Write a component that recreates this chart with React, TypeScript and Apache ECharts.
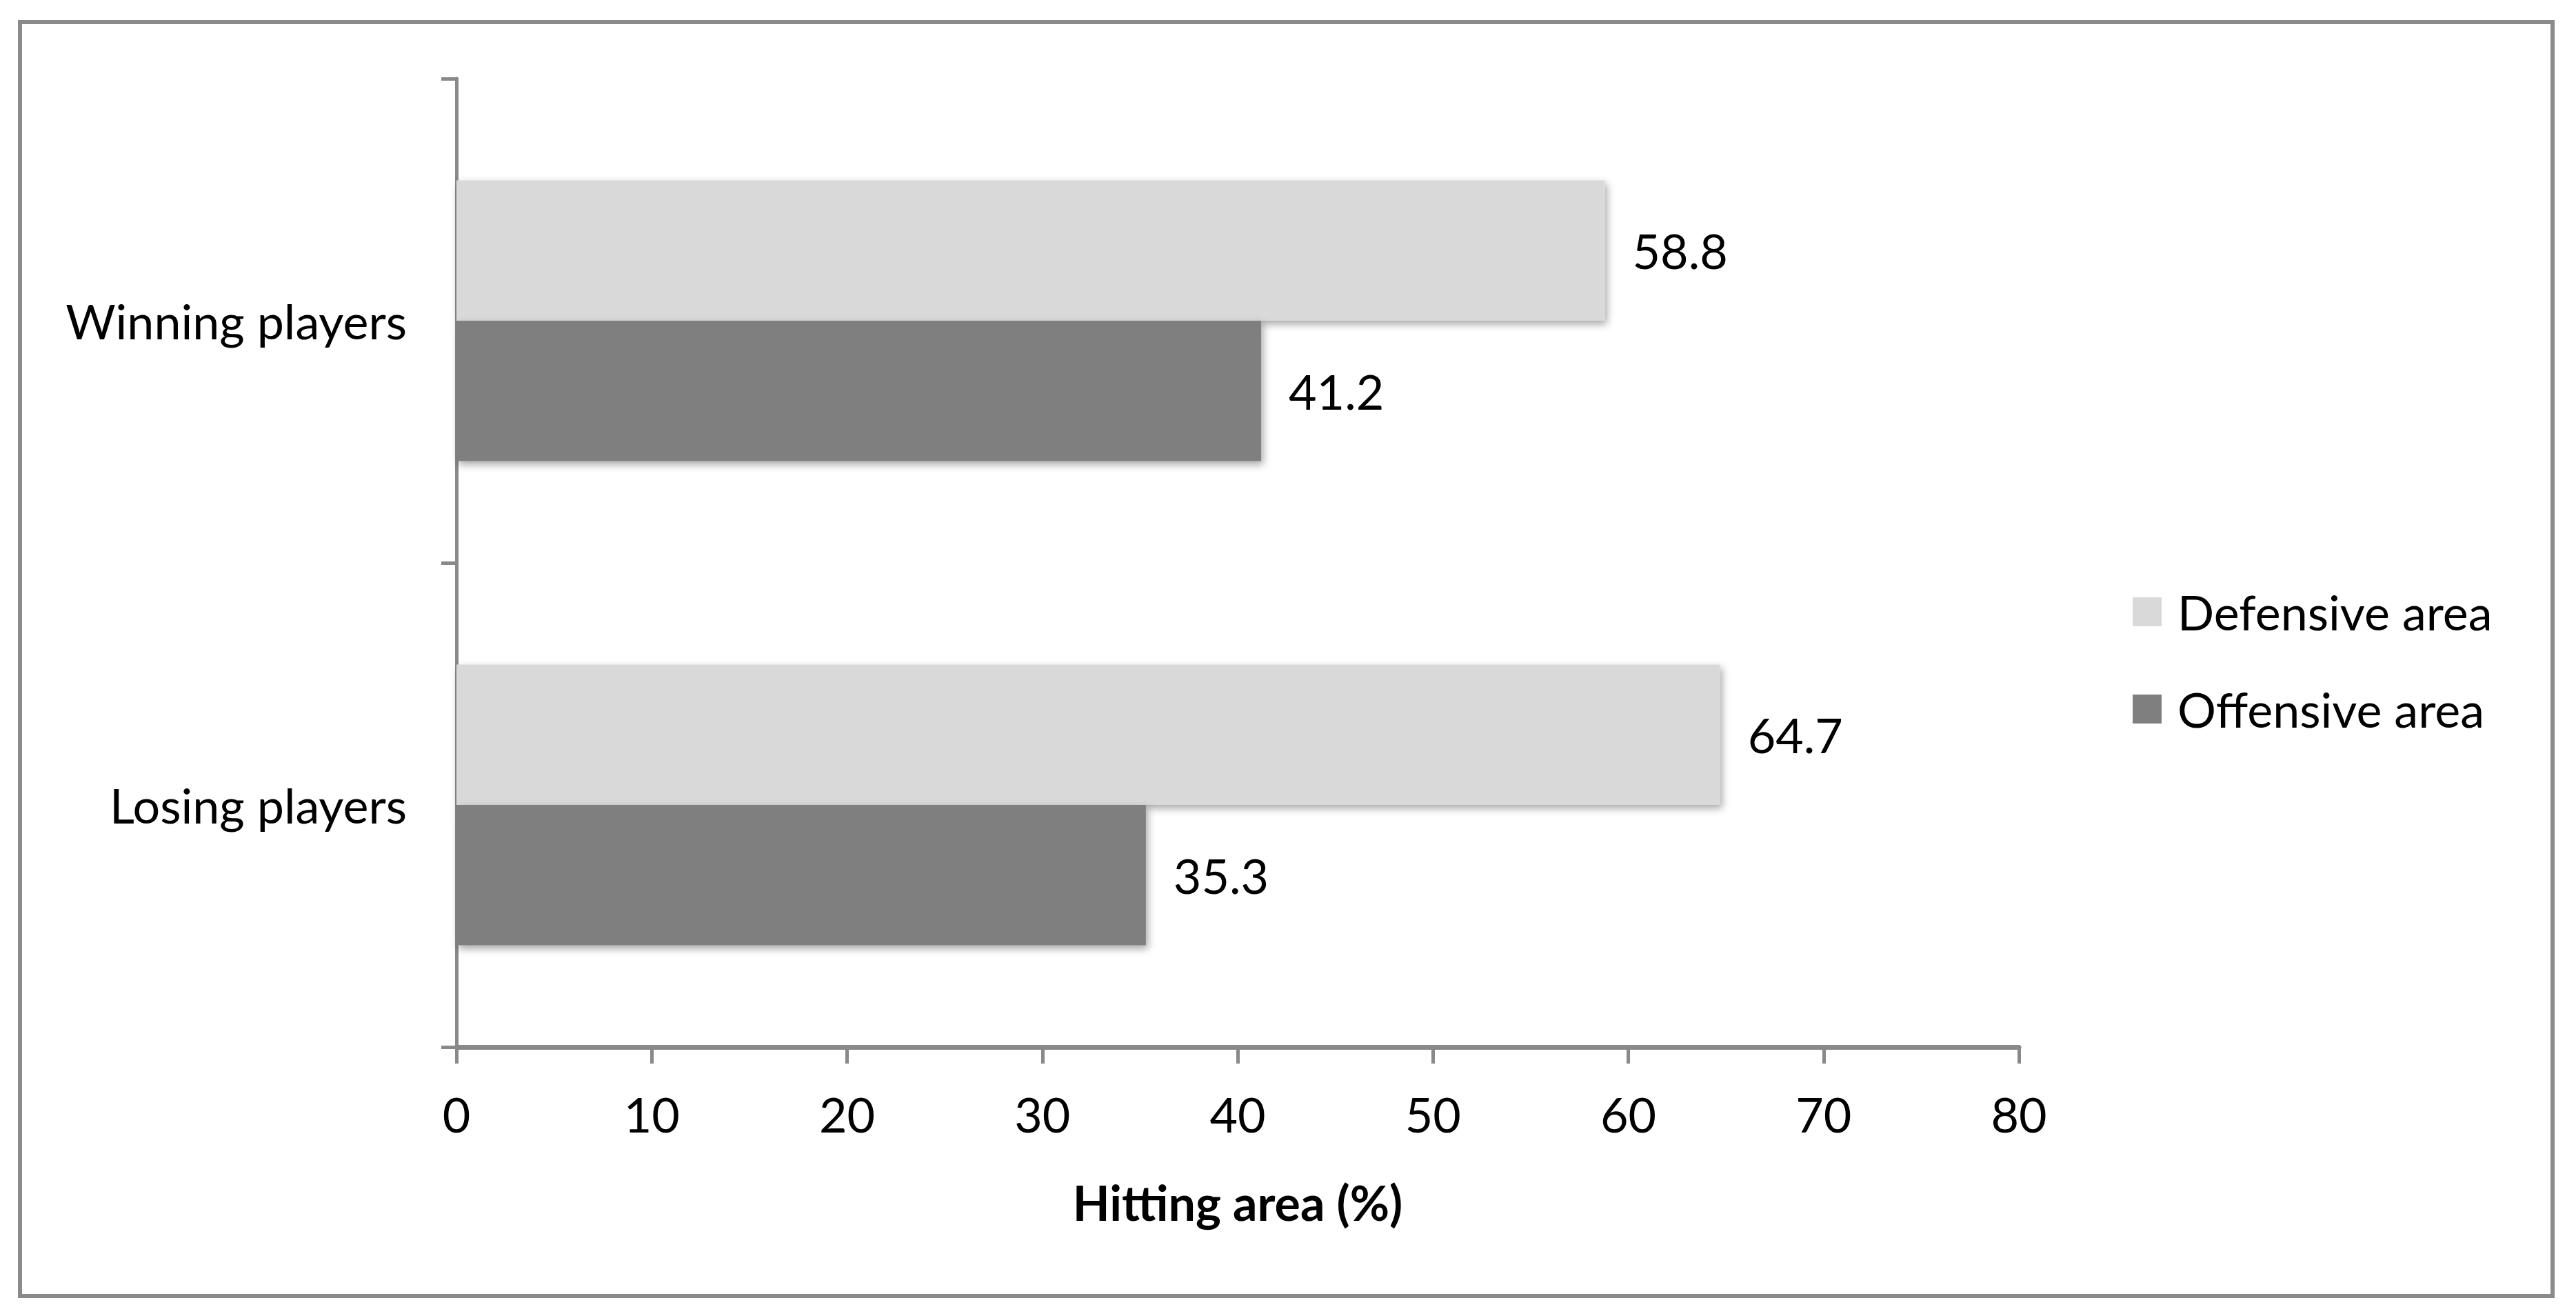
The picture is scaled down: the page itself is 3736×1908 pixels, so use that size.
import React, { useEffect, useRef } from "react";
import * as echarts from "echarts";

const categories = ["Winning players", "Losing players"];
const seriesNames = ["Defensive area", "Offensive area"];
const defensiveValues = [58.8, 64.7];
const offensiveValues = [41.2, 35.3];
const xTicks = { min: 0, max: 80, interval: 10 };
const xAxisTitle = "Hitting area (%)";

const FONT = "Lato";
const AXIS_COLOR = "#898989";

export default function App() {
  const ref = useRef<HTMLDivElement>(null);
  useEffect(() => {
    if (!ref.current) return;
    const chart = echarts.init(ref.current, null, { renderer: "svg" });
    const barShadow = {
      shadowBlur: 12,
      shadowColor: "rgba(0,0,0,0.35)",
      shadowOffsetX: 3,
      shadowOffsetY: 5,
    };
    const labelStyle = {
      show: true,
      position: "right",
      distance: 40,
      color: "#000",
      fontFamily: FONT,
      fontSize: 70,
      formatter: (p: any) => p.value.toFixed(1),
    };
    chart.setOption({
      animation: false,
      backgroundColor: "#fff",
      graphic: [
        {
          type: "rect",
          shape: { x: 29, y: 32, width: 3673, height: 1847 },
          style: { fill: "none", stroke: "#8a8a8a", lineWidth: 6 },
          silent: true,
        },
      ],
      grid: { left: 662, top: 114, width: 2266, height: 1404 },
      legend: {
        orient: "vertical",
        left: 3093,
        top: 852,
        padding: 0,
        itemWidth: 42,
        itemHeight: 42,
        itemGap: 71,
        icon: "rect",
        data: seriesNames,
        itemStyle: { shadowBlur: 0, shadowOffsetX: 0, shadowOffsetY: 0 },
        textStyle: {
          fontFamily: FONT,
          fontSize: 70,
          color: "#000",
          padding: [0, 0, 0, 18],
        },
      },
      xAxis: {
        type: "value",
        min: xTicks.min,
        max: xTicks.max,
        interval: xTicks.interval,
        name: xAxisTitle,
        nameLocation: "middle",
        nameGap: 190,
        nameTextStyle: {
          fontFamily: FONT,
          fontSize: 70,
          fontWeight: "bold",
          color: "#000",
        },
        axisLine: { show: true, lineStyle: { color: AXIS_COLOR, width: 7 } },
        axisTick: { show: true, length: 24, lineStyle: { color: AXIS_COLOR, width: 5 } },
        axisLabel: { fontFamily: FONT, fontSize: 70, color: "#000", margin: 62 },
        splitLine: { show: false },
      },
      yAxis: {
        type: "category",
        inverse: true,
        data: categories,
        axisLine: { show: true, lineStyle: { color: AXIS_COLOR, width: 5 } },
        axisTick: { show: true, length: 22, lineStyle: { color: AXIS_COLOR, width: 5 } },
        axisLabel: { fontFamily: FONT, fontSize: 70, color: "#000", margin: 72 },
        splitLine: { show: false },
      },
      series: [
        {
          name: seriesNames[0],
          type: "bar",
          data: defensiveValues,
          barGap: "0%",
          barCategoryGap: "42%",
          itemStyle: { color: "#d9d9d9", ...barShadow },
          label: labelStyle,
        },
        {
          name: seriesNames[1],
          type: "bar",
          data: offensiveValues,
          barGap: "0%",
          barCategoryGap: "42%",
          itemStyle: { color: "#7f7f7f", ...barShadow },
          label: labelStyle,
        },
      ],
    });
    return () => chart.dispose();
  }, []);
  return (
    <div
      ref={ref}
      style={{ position: "fixed", left: 0, top: 0, width: 3736, height: 1908 }}
    />
  );
}
